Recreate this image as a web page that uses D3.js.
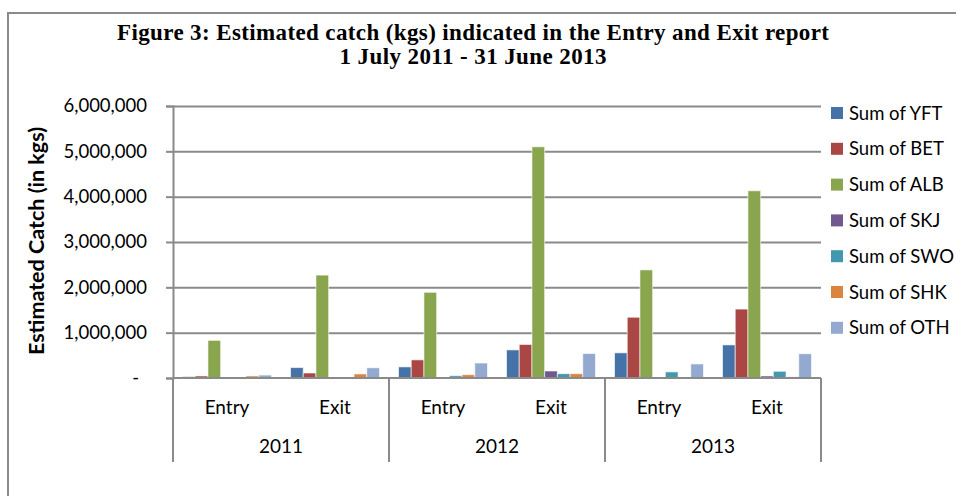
<!DOCTYPE html>
<html>
<head>
<meta charset="utf-8">
<script src="https://cdnjs.cloudflare.com/ajax/libs/d3/7.8.5/d3.min.js"></script>
<style>
  html, body { margin: 0; padding: 0; background: #fff; }
  svg { display: block; }
  .tick text { font-family: Lato, "Open Sans", sans-serif; }
</style>
</head>
<body>
<svg width="956" height="496"></svg>
<script>
var svg = d3.select("svg"),
	width = +svg.attr("width"),
	height = +svg.attr("height");

// data
var years = ["2011", "2012", "2013"];
var reports = ["Entry", "Exit"];
var seriesNames = ["Sum of YFT", "Sum of BET", "Sum of ALB", "Sum of SKJ", "Sum of SWO", "Sum of SHK", "Sum of OTH"];
var seriesColors = ["#4572A7", "#AA4643", "#89A54E", "#71588F", "#4198AF", "#DB843D", "#93A9CF"];
// one list per series, in order 2011 Entry, 2011 Exit, 2012 Entry, 2012 Exit, 2013 Entry, 2013 Exit
var yft = [30000, 230000, 245000, 620000, 555000, 730000];
var bet = [45000, 110000, 400000, 740000, 1340000, 1520000];
var alb = [830000, 2270000, 1890000, 5100000, 2385000, 4130000];
var skj = [0, 0, 10000, 155000, 15000, 45000];
var swo = [0, 0, 50000, 95000, 135000, 148000];
var shk = [45000, 90000, 73000, 95000, 15000, 25000];
var oth = [65000, 225000, 330000, 540000, 310000, 535000];
var yTicks = [0, 1000000, 2000000, 3000000, 4000000, 5000000, 6000000];

var seriesValues = [yft, bet, alb, skj, swo, shk, oth];

var cats = [];
years.forEach(function (y) {
	reports.forEach(function (r) {
		cats.push(y + "|" + r);
	});
});

var plotLeft = 173, plotRight = 821, plotTop = 106, plotBottom = 378;
var gridColor = "#8a8a8a";
var sans = "Lato, 'Open Sans', sans-serif";

var x = d3.scaleBand().domain(cats).range([plotLeft, plotRight]);
var xYear = d3.scaleBand().domain(years).range([plotLeft, plotRight]);
var xInner = d3.scaleBand().domain(d3.range(seriesNames.length))
	.range([0, x.bandwidth()])
	.paddingOuter(0.75).paddingInner(0);
var y = d3.scaleLinear().domain([0, 6000000]).range([plotBottom, plotTop]);

// outer frame
svg.append("path")
	.attr("d", "M8," + height + "V13H" + width)
	.attr("fill", "none")
	.attr("stroke", gridColor)
	.attr("stroke-width", 2);

// title
var title = svg.append("g")
	.style("font-family", "'Liberation Serif', 'Times New Roman', serif")
	.style("font-weight", "bold")
	.style("font-size", "23px")
	.attr("text-anchor", "middle");
title.append("text").attr("x", 473).attr("y", 40)
	.attr("textLength", 712).attr("lengthAdjust", "spacing")
	.text("Figure 3: Estimated catch (kgs) indicated in the Entry and Exit report");
title.append("text").attr("x", 473).attr("y", 64)
	.attr("textLength", 267).attr("lengthAdjust", "spacing")
	.text("1 July 2011 - 31 June 2013");

// y axis + gridlines
var yAxis = svg.append("g")
	.attr("transform", "translate(" + plotLeft + ",0)")
	.call(d3.axisLeft(y)
		.tickValues(yTicks)
		.tickSize(7)
		.tickPadding(19)
		.tickFormat(function (d) { return d === 0 ? "-" : d3.format(",")(d); }));
yAxis.select(".domain").attr("stroke", gridColor).attr("stroke-width", 2);
yAxis.selectAll(".tick line").attr("stroke", gridColor).attr("stroke-width", 2);
yAxis.selectAll(".tick text")
	.style("font-size", "18.5px")
	.attr("fill", "#000");
yAxis.selectAll(".tick").filter(function (d) { return d > 0; })
	.append("line")
	.attr("x1", 0).attr("x2", plotRight - plotLeft)
	.attr("stroke", gridColor).attr("stroke-width", 2);
yAxis.selectAll(".tick").filter(function (d) { return d === 0; })
	.select("text").attr("x", -34);

// y axis title
svg.append("text")
	.attr("transform", "translate(44," + ((plotTop + plotBottom) / 2 - 1) + ") rotate(-90)")
	.attr("text-anchor", "middle")
	.style("font-family", sans)
	.style("font-weight", "bold")
	.style("font-size", "21.5px")
	.text("Estimated Catch (in kgs)");

// bars
var groups = svg.append("g").selectAll("g")
	.data(cats)
	.enter().append("g")
	.attr("transform", function (d) { return "translate(" + x(d) + ",0)"; });

groups.selectAll("rect")
	.data(function (d, i) {
		return seriesValues.map(function (vals, s) {
			return { s: s, v: vals[i] };
		});
	})
	.enter().append("rect")
	.attr("x", function (d) { return xInner(d.s); })
	.attr("width", xInner.bandwidth())
	.attr("y", function (d) { return y(d.v); })
	.attr("height", function (d) { return y(0) - y(d.v); })
	.attr("fill", function (d) { return seriesColors[d.s]; })
	.attr("stroke", "#ffffff")
	.attr("stroke-opacity", 0.6)
	.attr("stroke-width", 1);

// category axis (two tiers)
var catAxis = svg.append("g");
catAxis.append("line")
	.attr("x1", plotLeft).attr("x2", plotRight)
	.attr("y1", plotBottom).attr("y2", plotBottom)
	.attr("stroke", gridColor).attr("stroke-width", 2);
catAxis.selectAll(".sep")
	.data(years.concat(["end"]))
	.enter().append("line")
	.attr("x1", function (d) { return d === "end" ? plotRight : xYear(d); })
	.attr("x2", function (d) { return d === "end" ? plotRight : xYear(d); })
	.attr("y1", plotBottom).attr("y2", 462)
	.attr("stroke", gridColor).attr("stroke-width", 2);
catAxis.selectAll(".rep")
	.data(cats)
	.enter().append("text")
	.attr("x", function (d) { return x(d) + x.bandwidth() / 2; })
	.attr("y", 414)
	.attr("text-anchor", "middle")
	.style("font-family", sans)
	.style("font-size", "19px")
	.text(function (d) { return d.split("|")[1]; });
catAxis.selectAll(".yr")
	.data(years)
	.enter().append("text")
	.attr("x", function (d) { return xYear(d) + xYear.bandwidth() / 2; })
	.attr("y", 453)
	.attr("text-anchor", "middle")
	.style("font-family", sans)
	.style("font-size", "19px")
	.text(function (d) { return d; });

// legend
var legend = svg.append("g").selectAll("g")
	.data(seriesNames)
	.enter().append("g")
	.attr("transform", function (d, i) { return "translate(831," + (113 + i * 35.8) + ")"; });
legend.append("rect")
	.attr("x", 0).attr("y", -6)
	.attr("width", 12).attr("height", 12)
	.attr("fill", function (d, i) { return seriesColors[i]; });
legend.append("text")
	.attr("x", 18)
	.attr("dy", "0.36em")
	.style("font-family", sans)
	.style("font-size", "18.5px")
	.text(function (d) { return d; });
</script>
</body>
</html>
